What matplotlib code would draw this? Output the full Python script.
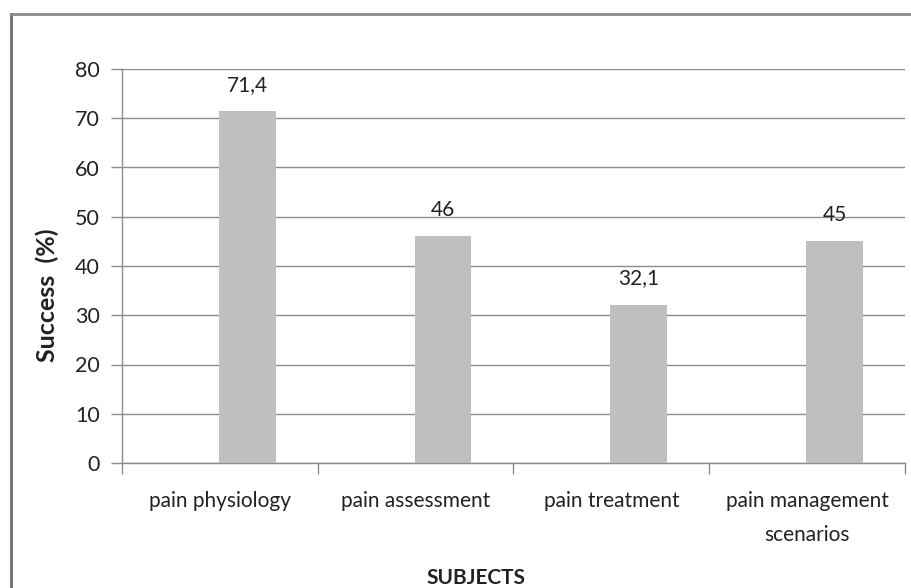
import numpy as np
import matplotlib
matplotlib.use("Agg")
import matplotlib.pyplot as plt
from matplotlib.lines import Line2D

subjects = ["pain physiology", "pain assessment", "pain treatment", "pain management\nscenarios"]
success = [71.4, 46, 32.1, 45]
value_labels = ["71,4", "46", "32,1", "45"]
yticks = [0, 10, 20, 30, 40, 50, 60, 70, 80]

plt.rcParams['font.family'] = ['Lato', 'DejaVu Sans']

fig = plt.figure(figsize=(9.12, 5.88), dpi=100)
ax = fig.add_axes([122/912, 1 - 463/588, (905-122)/912, (463-69)/588])

x = np.arange(len(subjects))
ax.bar(x + 0.14, success, width=0.29, color="#bfbfbf", zorder=3)
for xi, v, lab in zip(x, success, value_labels):
    ax.text(xi + 0.14, v + 5.4, lab, ha="center", va="center", fontsize=15, color="#222222")

ax.set_xlim(-0.5, len(subjects) - 0.5)
ax.set_ylim(0, 80)
ax.set_yticks(yticks)
ax.set_yticklabels([str(t) for t in yticks], fontsize=15.5, color="#222222")
ax.yaxis.grid(True, color="#8c8c8c", linewidth=1.0, zorder=0)
ax.set_axisbelow(True)

# category labels centred, ticks at category boundaries
ax.set_xticks(x)
ax.set_xticklabels(subjects, fontsize=15, color="#222222", linespacing=1.9)
ax.tick_params(axis="x", length=0, pad=20)
ax.set_xticks(np.arange(len(subjects) + 1) - 0.5, minor=True)
ax.tick_params(axis="x", which="minor", length=8, color="#8c8c8c", width=1)
ax.tick_params(axis="y", length=8, color="#8c8c8c", width=1, pad=8)

for s in ["top", "right"]:
    ax.spines[s].set_visible(False)
for s in ["left", "bottom"]:
    ax.spines[s].set_color("#8c8c8c")
    ax.spines[s].set_linewidth(1.0)

fig.text(47/912, 1 - 295/588, "Success  (%)", rotation=90, ha="center", va="center",
         fontsize=18, fontweight="bold", color="#222222")
fig.text(476/912, 1 - 578/588, "SUBJECTS", ha="center", va="center",
         fontsize=15, fontweight="bold", color="#222222")

# outer frame (left and top edges only visible)
fig.add_artist(Line2D([11/912, 11/912], [0, 1 - 14/588], transform=fig.transFigure,
                      color="#6e6e6e", linewidth=2))
fig.add_artist(Line2D([11/912, 1], [1 - 14/588, 1 - 14/588], transform=fig.transFigure,
                      color="#8a8a8a", linewidth=2))

fig.savefig("out.png", dpi=100)
